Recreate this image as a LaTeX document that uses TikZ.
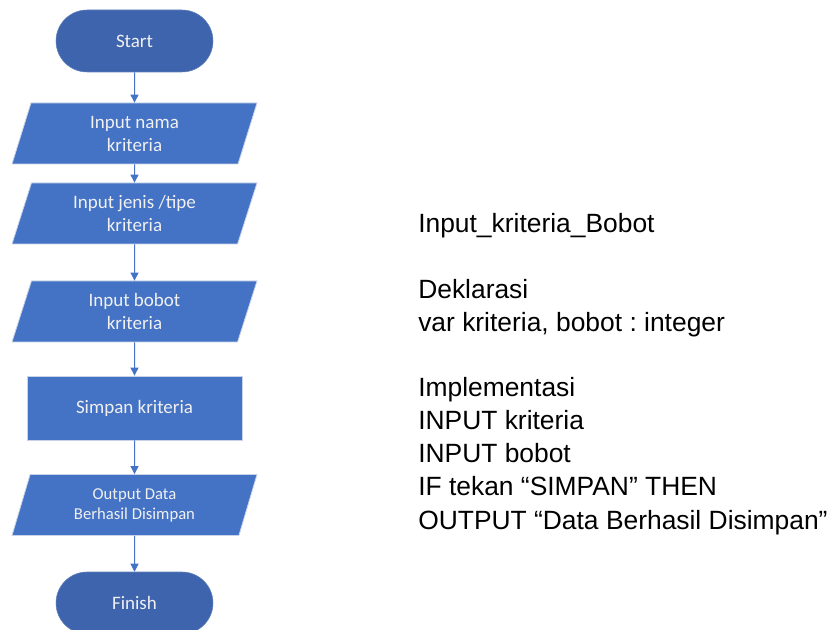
\documentclass[tikz,border=0pt]{standalone}
\usepackage{fontspec}
\setmainfont{Liberation Sans}
\newfontfamily\boxfont{Carlito}
\usetikzlibrary{shapes.geometric,arrows.meta}
\definecolor{termblue}{HTML}{3E64AD}
\definecolor{boxblue}{HTML}{4472C4}
\definecolor{boxedge}{HTML}{C9D3E8}
\frenchspacing

\begin{document}
\begin{tikzpicture}[x=0.75pt,y=-0.75pt]
        \tikzstyle{every node}=[inner sep=2pt, align=center]
        \tikzstyle{terminal}=[fill=termblue, draw=termblue!80!white, rounded corners=23.25pt, minimum width=117.75pt, minimum height=46.5pt, text=white!94!black, font=\boxfont\fontsize{14.25}{17.25}\selectfont]
        \tikzstyle{io}=[trapezium, trapezium left angle=65, trapezium right angle=115, trapezium stretches body, fill=boxblue, draw=boxedge, line width=0.6pt, minimum width=183.75pt, minimum height=45.75pt, text=white!94!black, font=\boxfont\fontsize{14.25}{17.25}\selectfont]
        \tikzstyle{process}=[rectangle, fill=boxblue, draw=boxedge, line width=0.6pt, minimum width=161.25pt, minimum height=48pt, text=white!94!black, font=\boxfont\fontsize{14.25}{17.25}\selectfont]
        \tikzstyle{flow}=[draw=boxblue, line width=0.75pt, -{Triangle[width=6pt,length=6pt]}]
        \tikzstyle{algo}=[anchor=base west, inner sep=0pt, font=\fontsize{19.8}{24.75}\selectfont]
        \useasboundingbox (0,0) rectangle (835,630);
        % flowchart
        \node[terminal] (start) at (134.5,41) {Start};
        \node[io] (nama) at (134.5,133.5) {Input nama\\kriteria};
        \node[io] (jenis) at (134.5,213.5) {Input jenis /tipe\\kriteria};
        \node[io] (bobot) at (134.5,311.5) {Input bobot\\kriteria};
        \node[process] (simpan) at (134.5,408) {Simpan kriteria};
        \node[io, font=\boxfont\fontsize{12.5}{15}\selectfont] (output) at (134.5,505) {Output Data\\Berhasil Disimpan};
        \node[terminal] (finish) at (134.5,603) {Finish};
        \draw[flow] (start) -- (nama);
        \draw[flow] (nama) -- (jenis);
        \draw[flow] (jenis) -- (bobot);
        \draw[flow] (bobot) -- (simpan);
        \draw[flow] (simpan) -- (output);
        \draw[flow] (output) -- (finish);
        % algoritma
        \node[algo] (judul) at (418,233) {Input\_kriteria\_Bobot};
        \node[algo] (deklarasi) at (418,299) {Deklarasi};
        \node[algo] (variabel) at (418,332) {var kriteria, bobot : integer};
        \node[algo] (implementasi) at (418,397) {Implementasi};
        \node[algo] (inkriteria) at (418,430) {INPUT kriteria};
        \node[algo] (inbobot) at (418,463) {INPUT bobot};
        \node[algo] (kondisi) at (418,496) {IF tekan “SIMPAN” THEN};
        \node[algo] (keluaran) at (418,529) {OUTPUT “Data Berhasil Disimpan”};
\end{tikzpicture}
\end{document}
